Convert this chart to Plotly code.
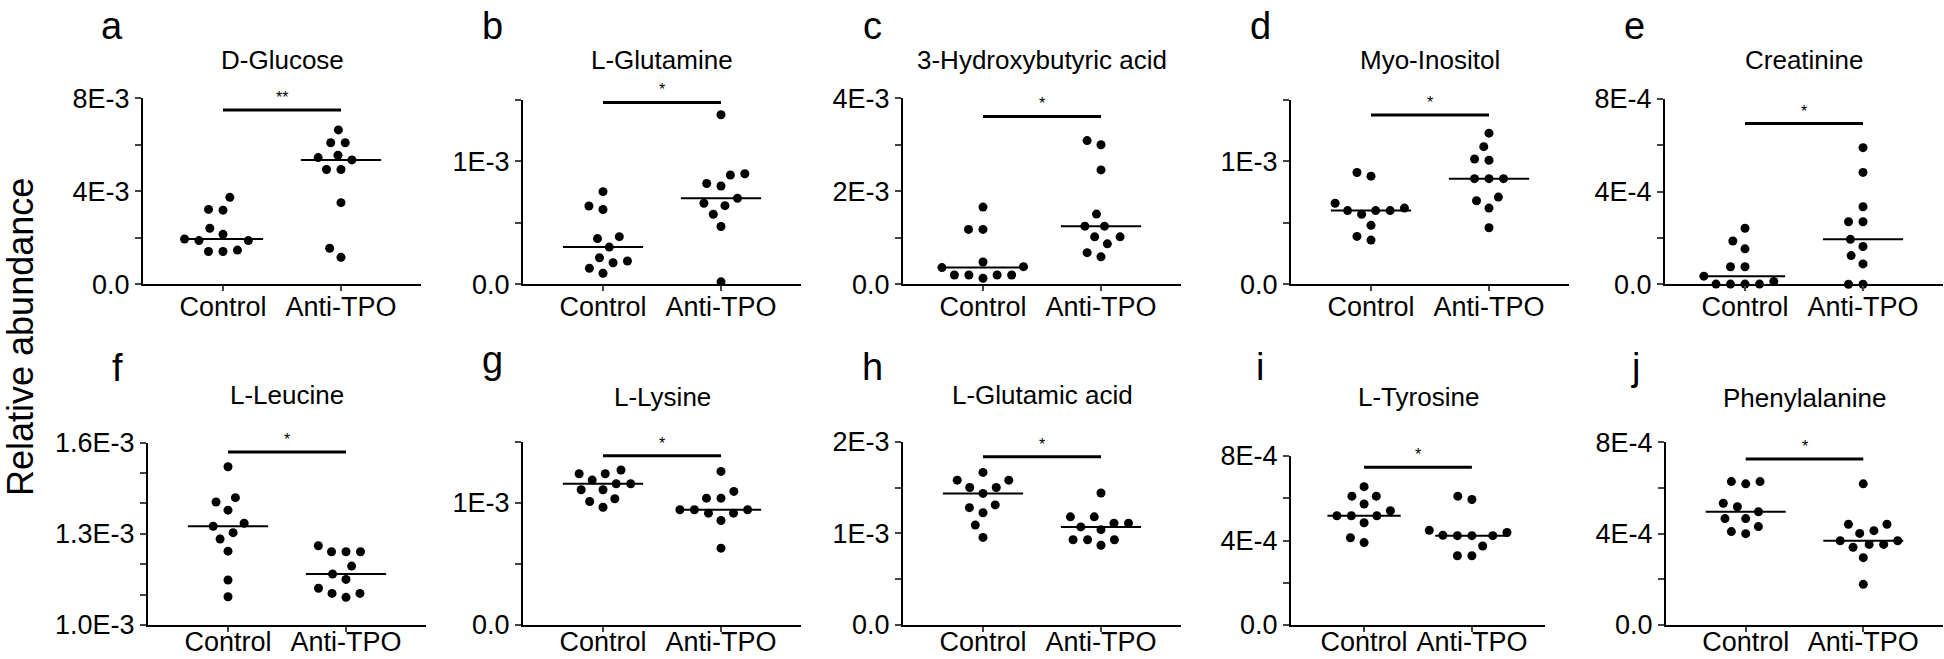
import numpy as np
import plotly.graph_objects as go

W, H = 1944, 659
FONT = "Arial, Liberation Sans, sans-serif"

groups = ["Control", "Anti-TPO"]
titles = ["D-Glucose", "L-Glutamine", "3-Hydroxybutyric acid", "Myo-Inositol", "Creatinine",
          "L-Leucine", "L-Lysine", "L-Glutamic acid", "L-Tyrosine", "Phenylalanine"]
letters = ["a", "b", "c", "d", "e", "f", "g", "h", "i", "j"]
stars = ["**", "*", "*", "*", "*", "*", "*", "*", "*", "*"]

control_a = [3.74e-3, 3.22e-3, 3.19e-3, 2.41e-3, 2.15e-3, 1.95e-3, 1.88e-3, 1.88e-3, 1.47e-3, 1.41e-3, 1.41e-3]
anti_a = [6.64e-3, 6.09e-3, 6.09e-3, 5.55e-3, 5.45e-3, 5.35e-3, 4.94e-3, 4.94e-3, 3.51e-3, 1.55e-3, 1.16e-3]
control_b = [0.754e-3, 0.637e-3, 0.609e-3, 0.388e-3, 0.372e-3, 0.303e-3, 0.216e-3, 0.19e-3, 0.175e-3, 0.131e-3, 0.09e-3]
anti_b = [1.38e-3, 0.90e-3, 0.89e-3, 0.82e-3, 0.80e-3, 0.70e-3, 0.66e-3, 0.64e-3, 0.57e-3, 0.47e-3, 0.02e-3]
control_c = [1.66e-3, 1.18e-3, 1.18e-3, 0.48e-3, 0.38e-3, 0.36e-3, 0.20e-3, 0.20e-3, 0.20e-3, 0.20e-3, 0.13e-3]
anti_c = [3.09e-3, 3.00e-3, 2.46e-3, 1.51e-3, 1.25e-3, 1.25e-3, 1.02e-3, 1.02e-3, 0.87e-3, 0.68e-3, 0.59e-3]
control_d = [0.91e-3, 0.88e-3, 0.66e-3, 0.62e-3, 0.60e-3, 0.60e-3, 0.60e-3, 0.57e-3, 0.48e-3, 0.39e-3, 0.36e-3]
anti_d = [1.23e-3, 1.12e-3, 1.02e-3, 1.01e-3, 0.86e-3, 0.86e-3, 0.86e-3, 0.71e-3, 0.68e-3, 0.62e-3, 0.46e-3]
control_e = [2.42e-4, 1.87e-4, 1.53e-4, 0.76e-4, 0.76e-4, 0.35e-4, 0.12e-4, 0.01e-4, 0.01e-4, 0.01e-4, 0.01e-4]
anti_e = [5.90e-4, 4.83e-4, 3.35e-4, 2.70e-4, 2.70e-4, 1.94e-4, 1.63e-4, 1.24e-4, 0.88e-4, 0.0, 0.0]
control_f = [1.521e-3, 1.419e-3, 1.405e-3, 1.378e-3, 1.335e-3, 1.325e-3, 1.304e-3, 1.283e-3, 1.243e-3, 1.148e-3, 1.093e-3]
anti_f = [1.261e-3, 1.241e-3, 1.241e-3, 1.241e-3, 1.194e-3, 1.168e-3, 1.150e-3, 1.121e-3, 1.104e-3, 1.104e-3, 1.091e-3]
control_g = [1.268e-3, 1.238e-3, 1.238e-3, 1.186e-3, 1.156e-3, 1.156e-3, 1.107e-3, 1.107e-3, 1.033e-3, 1.011e-3, 0.964e-3]
anti_g = [1.257e-3, 1.093e-3, 1.038e-3, 1.038e-3, 0.943e-3, 0.943e-3, 0.943e-3, 0.915e-3, 0.915e-3, 0.855e-3, 0.629e-3]
control_h = [1.665e-3, 1.58e-3, 1.58e-3, 1.50e-3, 1.50e-3, 1.436e-3, 1.31e-3, 1.28e-3, 1.225e-3, 1.09e-3, 0.956e-3]
anti_h = [1.44e-3, 1.18e-3, 1.18e-3, 1.11e-3, 1.11e-3, 1.07e-3, 1.04e-3, 0.93e-3, 0.93e-3, 0.93e-3, 0.87e-3]
control_i = [6.55e-4, 6.10e-4, 6.10e-4, 5.73e-4, 5.41e-4, 5.17e-4, 5.17e-4, 5.17e-4, 4.84e-4, 4.13e-4, 3.90e-4]
anti_i = [6.10e-4, 5.94e-4, 4.48e-4, 4.38e-4, 4.25e-4, 4.23e-4, 4.23e-4, 4.23e-4, 3.74e-4, 3.28e-4, 3.28e-4]
control_j = [6.28e-4, 6.28e-4, 6.18e-4, 5.33e-4, 5.18e-4, 4.96e-4, 4.66e-4, 4.66e-4, 4.31e-4, 4.09e-4, 4.00e-4]
anti_j = [6.18e-4, 4.41e-4, 4.41e-4, 4.13e-4, 4.01e-4, 3.69e-4, 3.69e-4, 3.53e-4, 3.53e-4, 3.40e-4, 2.95e-4, 1.78e-4]

sig_heights = [7.5e-3, 1.48e-3, 3.61e-3, 1.377e-3, 6.94e-4, 1.569e-3, 1.385e-3, 1.836e-3, 7.47e-4, 7.27e-4]

y_ranges = [[0, 8e-3], [0, 1.5e-3], [0, 4e-3], [0, 1.5e-3], [0, 8e-4],
            [1.0e-3, 1.6e-3], [0, 1.5e-3], [0, 2e-3], [0, 8e-4], [0, 8e-4]]
y_tickvals = [[0, 2e-3, 4e-3, 6e-3, 8e-3], [0, 0.5e-3, 1e-3, 1.5e-3], [0, 1e-3, 2e-3, 3e-3, 4e-3],
              [0, 0.5e-3, 1e-3, 1.5e-3], [0, 2e-4, 4e-4, 6e-4, 8e-4],
              [1.0e-3, 1.1e-3, 1.2e-3, 1.3e-3, 1.4e-3, 1.5e-3, 1.6e-3], [0, 0.5e-3, 1e-3, 1.5e-3],
              [0, 0.5e-3, 1e-3, 1.5e-3, 2e-3], [0, 2e-4, 4e-4, 6e-4, 8e-4], [0, 2e-4, 4e-4, 6e-4, 8e-4]]
y_ticktext = [["0.0", "", "4E-3", "", "8E-3"], ["0.0", "", "1E-3", ""], ["0.0", "", "2E-3", "", "4E-3"],
              ["0.0", "", "1E-3", ""], ["0.0", "", "4E-4", "", "8E-4"],
              ["1.0E-3", "", "", "1.3E-3", "", "", "1.6E-3"], ["0.0", "", "1E-3", ""],
              ["0.0", "", "1E-3", "", "2E-3"], ["0.0", "", "4E-4", "", "8E-4"], ["0.0", "", "4E-4", "", "8E-4"]]

controls = [control_a, control_b, control_c, control_d, control_e, control_f, control_g, control_h, control_i, control_j]
antis = [anti_a, anti_b, anti_c, anti_d, anti_e, anti_f, anti_g, anti_h, anti_i, anti_j]

# panel geometry in pixels: (axis left x, axis right x, y of bottom, y of top)
geom = [(143, 421, 284.3, 98.3), (523, 801, 284.3, 100), (903, 1181, 284.3, 98.3),
        (1291, 1569, 284.3, 100), (1665, 1943, 284.3, 99),
        (148, 426, 625, 442.7), (523, 801, 625, 441.7), (903, 1181, 625, 441.7),
        (1291, 1545, 625, 456), (1666, 1943, 625, 442.3)]
title_y = [60, 60, 60, 60, 60, 395, 397, 395, 397, 398]
letter_mid = [26, 26, 26, 26, 26, 368, 360, 367, 367, 367]
label_standoff = [-8, -8, -8, -8, -8, -13, -13, -13, -13, -13]

XR = [-0.678, 1.678]


def swarm(vals, ppu_y, ppu_x, D=14.5):
    vals = np.asarray(vals, dtype=float)
    order = np.argsort(vals)
    placed = []
    off = np.zeros(len(vals))
    for i in order:
        y = vals[i] * ppu_y
        cands = [0.0]
        for (py, px) in placed:
            dy = abs(y - py)
            if dy < D:
                dx = np.sqrt(D * D - dy * dy)
                cands += [px + dx, px - dx]
        cands = sorted(set(cands), key=lambda c: (round(abs(c), 6), c))
        for c in cands:
            ok = all((c - px) ** 2 + (y - py) ** 2 >= D * D - 1e-6 for (py, px) in placed)
            if ok:
                placed.append((y, c))
                off[i] = c
                break
    return off / ppu_x


fig = go.Figure()
layout = dict(width=W, height=H, margin=dict(l=0, r=0, t=0, b=0, autoexpand=False), plot_bgcolor="white",
              paper_bgcolor="white", showlegend=False, font=dict(family=FONT, color="black"))
annotations = []

for k in range(10):
    n = k + 1
    xs = "" if n == 1 else str(n)
    xl, xr, yb, yt = geom[k]
    ppu_x = (xr - xl) / (XR[1] - XR[0])
    ppu_y = (yb - yt) / (y_ranges[k][1] - y_ranges[k][0])
    for gi, vals in enumerate([controls[k], antis[k]]):
        off = swarm(vals, ppu_y, ppu_x)
        fig.add_trace(go.Scatter(x=gi + off, y=vals, mode="markers", xaxis="x" + xs, yaxis="y" + xs,
                                 marker=dict(color="black", size=9), cliponaxis=False, hoverinfo="y"))
        med = float(np.median(vals))
        fig.add_trace(go.Scatter(x=[gi - 0.34, gi + 0.34], y=[med, med], mode="lines", xaxis="x" + xs,
                                 yaxis="y" + xs, line=dict(color="black", width=2), cliponaxis=False,
                                 hoverinfo="skip"))
    # significance bar
    fig.add_trace(go.Scatter(x=[0, 1], y=[sig_heights[k]] * 2, mode="lines", xaxis="x" + xs, yaxis="y" + xs,
                             line=dict(color="black", width=3), cliponaxis=False, hoverinfo="skip"))
    annotations.append(dict(x=0.5, y=sig_heights[k], xref="x" + xs, yref="y" + xs, text=stars[k],
                            showarrow=False, yanchor="bottom", yshift=2, font=dict(size=16)))
    layout["xaxis" + xs] = dict(domain=[xl / W, xr / W], anchor="y" + xs, range=XR, automargin=False,
                                tickvals=[0, 1], ticktext=groups, ticks="outside", ticklen=5, tickwidth=2,
                                ticklabelstandoff=label_standoff[k],
                                showline=True, linewidth=2, linecolor="black", showgrid=False, zeroline=False,
                                tickfont=dict(size=27, color="black"), fixedrange=True)
    layout["yaxis" + xs] = dict(domain=[1 - yb / H, 1 - yt / H], anchor="x" + xs, range=y_ranges[k],
                                automargin=False,
                                tickvals=y_tickvals[k], ticktext=y_ticktext[k], ticks="outside", ticklen=6,
                                tickwidth=2, showline=True, linewidth=2, linecolor="black", showgrid=False,
                                zeroline=False, tickfont=dict(size=27, color="black"), fixedrange=True)
    annotations.append(dict(x=0.5, y=1 - title_y[k] / H, xref="x" + xs, yref="paper", text=titles[k],
                            showarrow=False, yanchor="middle", font=dict(size=26)))
    annotations.append(dict(x=(xl - 31) / W, y=1 - letter_mid[k] / H, xref="paper", yref="paper",
                            text=letters[k], showarrow=False, xanchor="center", yanchor="middle",
                            font=dict(size=38)))

annotations.append(dict(x=20 / W, y=1 - 337 / H, xref="paper", yref="paper", text="Relative abundance",
                        textangle=-90, showarrow=False, xanchor="center", yanchor="middle",
                        font=dict(size=36)))

layout["annotations"] = annotations
fig.update_layout(**layout)
fig.write_html("out.html", config={"displayModeBar": False},
               post_script="document.body.style.margin='0px';document.body.style.overflow='hidden';")
